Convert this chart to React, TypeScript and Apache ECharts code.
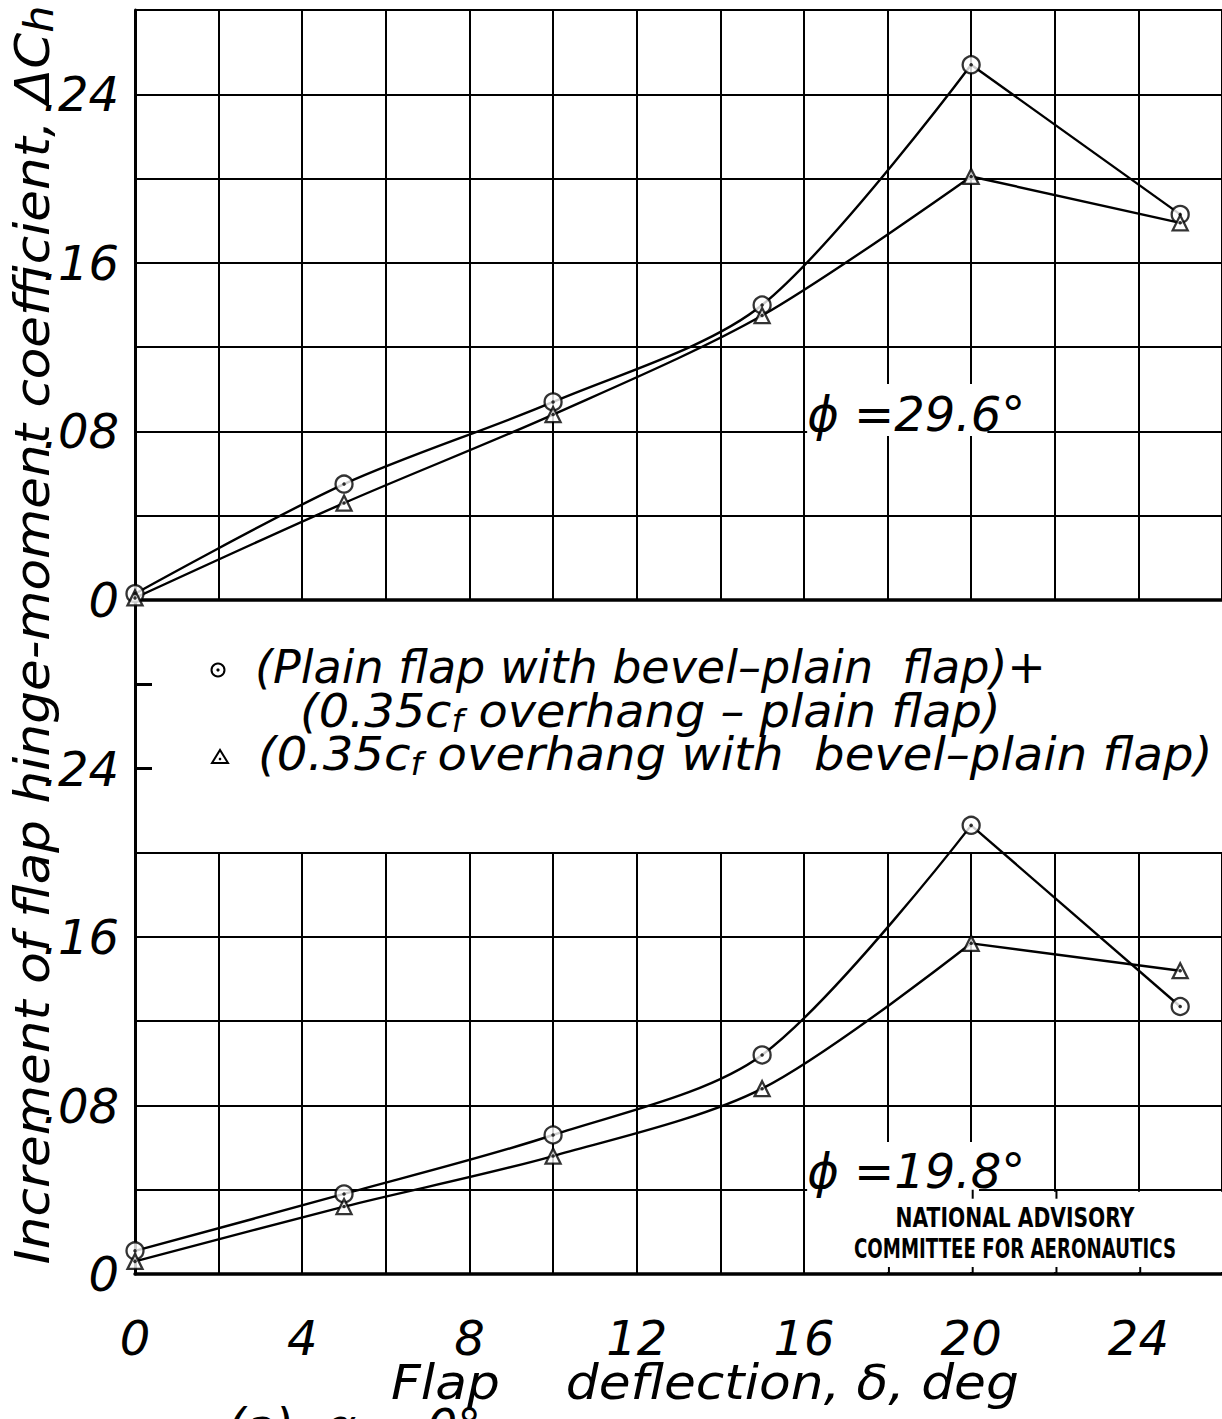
import React, { useEffect, useRef } from "react";
import * as echarts from "echarts";

// Flap deflection (deg) at which the hinge-moment increments were measured
const deflection = [0, 5, 10, 15, 20, 25];

// phi = 29.6 deg panel
const phi296Circles = [0.003, 0.055, 0.094, 0.14, 0.254, 0.183];
const phi296Triangles = [0.001, 0.046, 0.088, 0.135, 0.201, 0.179];

// phi = 19.8 deg panel
const phi198Circles = [0.011, 0.038, 0.066, 0.104, 0.213, 0.127];
const phi198Triangles = [0.006, 0.032, 0.056, 0.088, 0.157, 0.144];

const xTickLabels = [0, 4, 8, 12, 16, 20, 24];
const yTickLabels = [0, 0.08, 0.16, 0.24];
const lowerAxisTicks = [0.24, 0.28];

const legendCircleText = ["(Plain flap with bevel\u2013plain\u00A0 flap)+", "(0.35c", "f", " overhang \u2013 plain flap)"];
const legendTriangleText = ["(0.35c", "f", " overhang with\u00A0 bevel\u2013plain flap)"];
const panelLabels = ["\u03D5 =29.6\u00B0", "\u03D5 =19.8\u00B0"];
const nacaLines = ["NATIONAL ADVISORY", "COMMITTEE FOR AERONAUTICS"];

// Layout of the two stacked panels (pixels)
const PLOT_LEFT = 135;
const PLOT_W = 1089; // x runs 0..26 deg
const X_MAX = 26;
const UPPER_TOP = 10; // 0.28 line of upper panel
const MID = 600; // 0 of upper panel = 0.32 of lower panel
const BOTTOM = 1274; // 0 of lower panel
const UNIT = (MID - UPPER_TOP) / 0.28;
const LOWER_GRID_TOP = BOTTOM - 0.2 * UNIT;

const xPx = (v: number) => PLOT_LEFT + (v / X_MAX) * PLOT_W;
const yUp = (v: number) => MID - v * UNIT;
const yLow = (v: number) => BOTTOM - v * UNIT;

const HAND = '"DejaVu Sans", "Liberation Sans", sans-serif';
const INK = "#000";
const LINE_W = 2.4;

const pairs = (ys: number[]) => deflection.map((x, i) => [x, ys[i]]);

const fmtY = (v: number) => (v === 0 ? "0" : v.toFixed(2).replace(/^0/, ""));

// faired curve through the first five points, straight run to the last one
function curveSeries(ys: number[], axis: number) {
  const d = pairs(ys);
  const common = { type: "line", xAxisIndex: axis, yAxisIndex: axis, symbol: "none", lineStyle: { color: INK, width: LINE_W }, z: 2 };
  return [
    { ...common, data: d.slice(0, 5), smooth: 0.3 },
    { ...common, data: d.slice(4), smooth: false },
  ];
}

function markerSeries(ys: number[], axis: number, shape: string, size: number) {
  const d = pairs(ys);
  return [
    {
      type: "scatter",
      xAxisIndex: axis,
      yAxisIndex: axis,
      data: d,
      symbol: shape,
      symbolSize: size,
      itemStyle: { color: "#fff", borderColor: INK, borderWidth: 2.3 },
      z: 3,
    },
    {
      type: "scatter",
      xAxisIndex: axis,
      yAxisIndex: axis,
      data: d,
      symbol: "circle",
      symbolSize: 3.5,
      itemStyle: { color: INK },
      z: 4,
    },
  ];
}

const handText = (size: number) => ({
  fontSize: size,
  fontFamily: HAND,
  fontStyle: "italic",
  color: INK,
});

function textEl(x: number, y: number, text: string, size: number, align = "left", sx = 1) {
  return {
    type: "text",
    x,
    y,
    scaleX: sx,
    z: 6,
    style: {
      text,
      fill: INK,
      fontSize: size,
      fontFamily: HAND,
      fontStyle: "italic",
      align,
      verticalAlign: "middle",
      textAlign: align,
      textVerticalAlign: "middle",
    },
  };
}

function subText(x: number, y: number, parts: string[], size: number, subSize: number, subDrop: number, sx = 1) {
  const base = { fontSize: size, fontFamily: HAND, fontStyle: "italic", fill: INK, color: INK, lineHeight: size * 1.1 };
  const sub = { fontSize: subSize, fontFamily: HAND, fontStyle: "italic", fill: INK, color: INK, lineHeight: size * 1.1, padding: [subDrop * 2, 0, 0, 0] };
  const text = parts.map((p, i) => (i % 2 === 1 ? `{s|${p}}` : `{m|${p}}`)).join("");
  return {
    type: "text",
    x,
    y,
    scaleX: sx,
    z: 6,
    style: {
      text,
      rich: { m: base, s: sub },
      align: "left",
      verticalAlign: "middle",
      textAlign: "left",
      textVerticalAlign: "middle",
    },
  };
}

function buildGraphics() {
  const g: any[] = [];
  // white cut-outs behind the panel labels and the NACA block
  g.push({ type: "rect", z: 1, shape: { x: xPx(16) + 2, y: 384, width: xPx(20.35) - xPx(16) - 2, height: 52 }, style: { fill: "#fff" } });
  g.push({ type: "rect", z: 1, shape: { x: xPx(16) + 2, y: 1142, width: xPx(20.15) - xPx(16) - 2, height: yLow(0.04) - 1142 + 3 }, style: { fill: "#fff" } });
  g.push({ type: "rect", z: 1, shape: { x: xPx(16) + 2, y: yLow(0.04) + 2, width: 1222 - xPx(16), height: yLow(0) - yLow(0.04) - 4 }, style: { fill: "#fff" } });
  // short tick stubs left inside the NACA block
  [20, 22].forEach((v) => g.push({ type: "line", z: 1.5, shape: { x1: xPx(v), y1: yLow(0.04), x2: xPx(v), y2: yLow(0.04) + 9 }, style: { stroke: INK, lineWidth: 2 } }));
  [18, 20, 22, 24].forEach((v) => g.push({ type: "line", z: 1.5, shape: { x1: xPx(v), y1: yLow(0), x2: xPx(v), y2: yLow(0) - 7 }, style: { stroke: INK, lineWidth: 2 } }));

  // panel labels
  g.push(textEl(xPx(16) + 2, yUp(0.08) - 17, panelLabels[0], 48));
  g.push(textEl(xPx(16) + 2, yLow(0.04) - 19, panelLabels[1], 48));

  // NACA block
  nacaLines.forEach((t, i) =>
    g.push({
      type: "text",
      x: 1015,
      y: 1218 + i * 31,
      scaleX: i === 0 ? 0.78 : 0.7,
      z: 6,
      style: { text: t, fill: INK, fontSize: 26, fontFamily: '"DejaVu Sans", sans-serif', fontWeight: "bold", align: "center", verticalAlign: "middle", textAlign: "center", textVerticalAlign: "middle" },
    })
  );

  // legend
  g.push({ type: "circle", z: 6, shape: { cx: 218, cy: 670, r: 6.5 }, style: { fill: "#fff", stroke: INK, lineWidth: 2 } });
  g.push({ type: "circle", z: 7, shape: { cx: 218, cy: 670, r: 1.6 }, style: { fill: INK } });
  g.push({ type: "polygon", z: 6, shape: { points: [[212, 763], [228, 763], [220, 750]] }, style: { fill: "#fff", stroke: INK, lineWidth: 2 } });
  g.push({ type: "circle", z: 7, shape: { cx: 220, cy: 759, r: 1.3 }, style: { fill: INK } });
  g.push(textEl(255, 667, legendCircleText[0], 46));
  g.push(subText(300, 711, legendCircleText.slice(1), 46, 32, 10, 1.04));
  g.push(subText(258, 754, legendTriangleText, 46, 32, 10, 1.047));

  // axis titles
  g.push({
    type: "text",
    x: 33,
    y: 635,
    rotation: Math.PI / 2,
    scaleX: 1.075,
    z: 6,
    style: {
      text: "{m|Increment of flap hinge-moment coefficient, \u0394C}{s|h}",
      rich: {
        m: { fontSize: 48, fontFamily: HAND, fontStyle: "italic", fill: INK, color: INK, lineHeight: 54 },
        s: { fontSize: 40, fontFamily: HAND, fontStyle: "italic", fill: INK, color: INK, lineHeight: 54, padding: [12, 0, 0, 0] },
      },
      align: "center",
      verticalAlign: "middle",
      textAlign: "center",
      textVerticalAlign: "middle",
    },
  });
  g.push(textEl(391, 1383, "Flap\u00A0\u00A0\u00A0 deflection, \u03B4, deg", 48, "left", 1.08));
  g.push(textEl(227, 1426, "(a)\u00A0 \u03B1 = 0\u00B0", 48));
  return g;
}

export default function App() {
  const ref = useRef<HTMLDivElement>(null);
  useEffect(() => {
    document.body.style.margin = "0";
    document.body.style.background = "#fff";
    const chart = echarts.init(ref.current!, undefined, { renderer: "svg" });
    const axisLine = (w: number) => ({ show: true, onZero: false, lineStyle: { color: INK, width: w } });
    const split = { show: true, lineStyle: { color: INK, width: 2, type: "solid" } };
    const option: any = {
      animation: false,
      backgroundColor: "#fff",
      grid: [
        { left: PLOT_LEFT, top: UPPER_TOP, width: PLOT_W, height: MID - UPPER_TOP },
        { left: PLOT_LEFT, top: MID, width: PLOT_W, height: BOTTOM - MID },
        { left: PLOT_LEFT, top: LOWER_GRID_TOP, width: PLOT_W, height: BOTTOM - LOWER_GRID_TOP },
      ],
      xAxis: [
        { type: "value", gridIndex: 0, min: 0, max: X_MAX, interval: 2, axisLine: axisLine(3.5), axisTick: { show: false }, axisLabel: { show: false }, splitLine: split },
        {
          type: "value",
          gridIndex: 1,
          min: 0,
          max: X_MAX,
          interval: 2,
          axisLine: axisLine(3.5),
          axisTick: { show: false },
          axisLabel: { ...handText(48), customValues: xTickLabels, margin: 40, formatter: (v: number) => String(v) },
          splitLine: { show: false },
        },
        { type: "value", gridIndex: 2, min: 0, max: X_MAX, interval: 2, axisLine: { show: false }, axisTick: { show: false }, axisLabel: { show: false }, splitLine: split },
      ],
      yAxis: [
        {
          type: "value",
          gridIndex: 0,
          min: 0,
          max: 0.28,
          interval: 0.04,
          axisLine: axisLine(3),
          axisTick: { show: false },
          axisLabel: { ...handText(48), customValues: yTickLabels, margin: 16, formatter: fmtY },
          splitLine: split,
        },
        {
          type: "value",
          gridIndex: 1,
          min: 0,
          max: 0.32,
          interval: 0.04,
          axisLine: axisLine(3),
          axisTick: { show: true, inside: true, length: 17, customValues: lowerAxisTicks, lineStyle: { color: INK, width: 3 } },
          axisLabel: { ...handText(48), customValues: yTickLabels, margin: 16, formatter: fmtY },
          splitLine: { show: false },
        },
        { type: "value", gridIndex: 2, min: 0, max: 0.2, interval: 0.04, axisLine: { show: false }, axisTick: { show: false }, axisLabel: { show: false }, splitLine: split },
      ],
      series: [
        ...curveSeries(phi296Circles, 0),
        ...curveSeries(phi296Triangles, 0),
        ...curveSeries(phi198Circles, 1),
        ...curveSeries(phi198Triangles, 1),
        ...markerSeries(phi296Circles, 0, "circle", 17),
        ...markerSeries(phi296Triangles, 0, "triangle", 15),
        ...markerSeries(phi198Circles, 1, "circle", 17),
        ...markerSeries(phi198Triangles, 1, "triangle", 15),
      ],
      graphic: buildGraphics(),
    };
    chart.setOption(option);
    return () => chart.dispose();
  }, []);
  return <div ref={ref} style={{ position: "absolute", left: 0, top: 0, width: 1222, height: 1419, background: "#fff" }} />;
}
